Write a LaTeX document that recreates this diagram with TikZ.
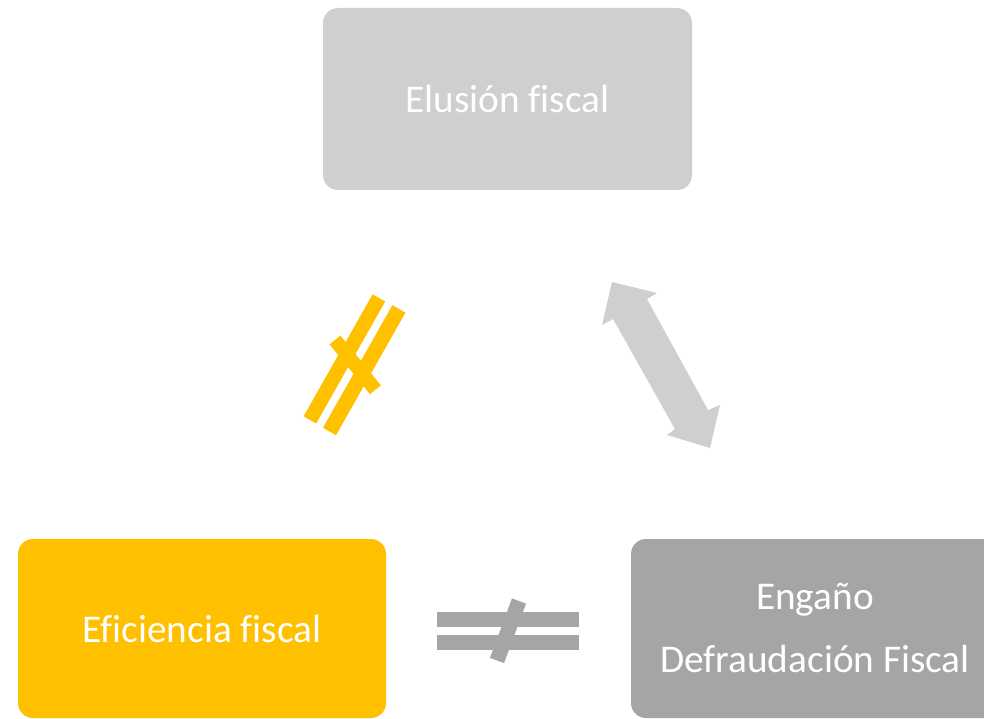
\documentclass[tikz,border=0pt]{standalone}
\usepackage{fontspec}
\setmainfont{Carlito}[Ligatures=NoCommon]
\definecolor{lightbox}{HTML}{D0CECE}
\definecolor{darkbox}{HTML}{A5A5A5}
\definecolor{goldbox}{HTML}{FFC000}
\begin{document}
\begin{tikzpicture}[x=1pt,y=-1pt,
  box/.style={rounded corners=15pt, text=white, inner sep=0pt, align=center,
    font=\fontsize{39.3}{63}\selectfont},
  bar/.style={line width=#1, line cap=butt},
]
\useasboundingbox (0,0) rectangle (984,719);
\clip (0,0) rectangle (984,719);
% boxes
\node[box, fill=lightbox, minimum width=369pt, minimum height=182pt] (elusion) at (507.5,99) {Elusión fiscal};
\node[box, fill=goldbox, minimum width=368pt, minimum height=179pt] (eficiencia) at (202,628.5) {Eficiencia fiscal};
\node[box, fill=darkbox, minimum width=368pt, minimum height=179pt] (engano) at (815,628.5) {Engaño\\Defraudación Fiscal};
% yellow "not equal" sign
\draw[goldbox, bar=14.5] (378.9,297.9) -- (309.9,419.9);
\draw[goldbox, bar=15] (398.9,308.9) -- (329.5,431.5);
\draw[goldbox, bar=14] (335,340) -- (375.4,389.7);
% double arrow
\fill[lightbox] (612,282) -- (657,293) -- (647,299) -- (708,410) -- (720,405) -- (710,448)
  -- (667,435) -- (675,429) -- (613,319) -- (602,325) -- cycle;
% gray "not equal" sign
\fill[darkbox] (437,612) rectangle (579,627);
\fill[darkbox] (437,635) rectangle (579,650);
\draw[darkbox, bar=15] (519,601) -- (497,660.5);
\end{tikzpicture}
\end{document}
